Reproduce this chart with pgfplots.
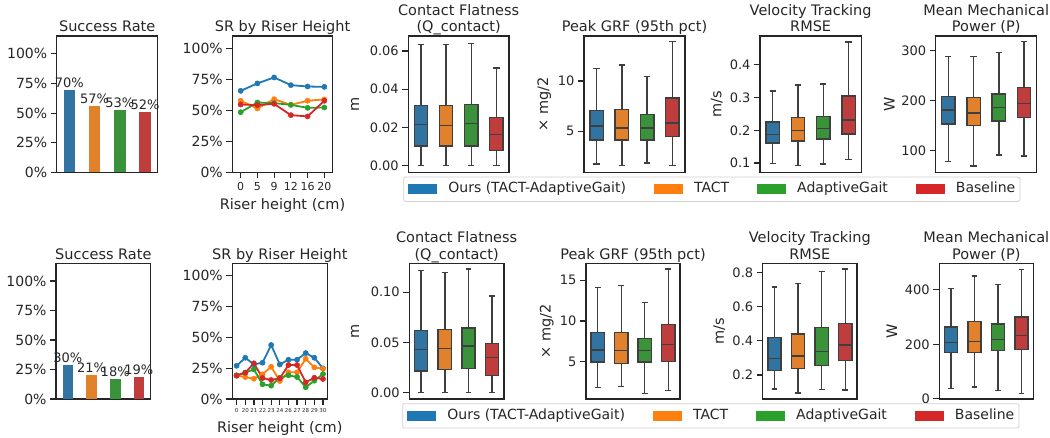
\documentclass[border=0pt]{standalone}
\usepackage{fontspec}
\setmainfont{DejaVu Sans}
\usepackage{pgfplots}
\pgfplotsset{compat=1.18}
\usepgfplotslibrary{statistics}
\definecolor{cb}{HTML}{3274A1}
\definecolor{co}{HTML}{E1812C}
\definecolor{cg}{HTML}{3A923A}
\definecolor{cr}{HTML}{C03D3E}
\definecolor{tb}{HTML}{1F77B4}
\definecolor{to}{HTML}{FF7F0E}
\definecolor{tg}{HTML}{2CA02C}
\definecolor{tr}{HTML}{D62728}
\definecolor{axc}{HTML}{262626}
\definecolor{txt}{HTML}{262626}
\definecolor{bxe}{HTML}{3F3F3F}
\definecolor{legbd}{HTML}{D0D0D0}
\newcommand\tks{\fontsize{13}{15.6}\selectfont}
\newcommand\tkp{\fontsize{14}{16}\selectfont}
\newcommand\ttl{\fontsize{14.5}{16.5}\selectfont}
\newcommand\bls{\fontsize{13}{15}\selectfont}
\newcommand\lgs{\fontsize{14}{16}\selectfont}
\newcommand\rxs{\fontsize{11}{13}\selectfont}
\newcommand\rxb{\fontsize{5.5}{6.6}\selectfont}
\pgfplotsset{
  base/.style={scale only axis, anchor=south west, scaled y ticks=false, scaled x ticks=false,
    axis line style={draw=axc, line width=1.25pt},
    tick style={draw=axc, line width=1.25pt},
    major tick length=6pt, tick align=outside, tick pos=left,
    yticklabel style={font=\tks, text=txt},
    xticklabel style={font=\tks, text=txt},
    title style={font=\ttl, text=txt, align=center, anchor=south, inner sep=0pt, at={(axis description cs:0.5,1)}, yshift=-7pt},
    ylabel style={font=\ttl, text=txt, anchor=center},
    xlabel style={font=\ttl, text=txt, anchor=center, at={(axis description cs:0.5,0)}},
  },
  top/.style={height=136.5pt},
  bot/.style={height=135.8pt},
  sr/.style={base, ymin=0, ymax=1.15, xmin=-0.5, xmax=3.5, xtick=\empty,
    ytick={0,0.25,0.5,0.75,1}, yticklabels={0\%,25\%,50\%,75\%,100\%},
    yticklabel style={font=\tkp},
    title={\strut Success Rate},
    nodes near coords, point meta=explicit symbolic,
    nodes near coords style={font=\bls, text=txt, anchor=south, inner sep=2pt}},
  riser/.style={base, ymin=0, ymax=1.1,
    ytick={0,0.25,0.5,0.75,1}, yticklabels={0\%,25\%,50\%,75\%,100\%},
    yticklabel style={font=\tkp},
    title={\strut SR by Riser Height}, xlabel={Riser height (cm)}},
  bp/.style={base, xmin=-0.5, xmax=3.5, xtick=\empty,
    boxplot/draw direction=y, boxplot/box extend=0.53, boxplot/whisker extend=0.25,
    boxplot/every median/.style={draw=bxe, line width=1.4pt}},
  ln/.style={#1, line width=1.8pt, mark=*, mark size=2.6pt, mark options={solid, line width=0.5pt, fill=#1, draw=#1}},
  lgax/.style={hide axis, scale only axis, anchor=south west, width=10pt, height=10pt,
    xmin=0, xmax=1, ymin=0, ymax=1, legend columns=4,
    legend style={at={(axis description cs:0,0)}, anchor=north west, draw=legbd, line width=0.8pt,
      rounded corners=2pt, fill=white, font=\lgs, text=txt, inner xsep=4.7pt, inner ysep=5.6pt,
      nodes={inner sep=0pt, text height=10.2pt, text depth=3pt},
      /tikz/every odd column/.append style={column sep=0pt},
      /tikz/every even column/.append style={column sep=0pt}}},
}
\newcommand\lgimg[1]{\addlegendimage{legend image code/.code={\path[draw=none,fill=none] (0pt,-5pt) rectangle (40pt,5pt); \fill[#1, draw=none, sharp corners] (0pt,-5pt) rectangle (29pt,5pt);}}}
\newcommand\gap{\hspace{28pt}\null}
\newcommand\bx[7]{\addplot[boxplot prepared={draw position=#1, lower whisker=#3, lower quartile=#4, median=#5, upper quartile=#6, upper whisker=#7}, fill=#2, draw=bxe, line width=1.4pt] coordinates {};}
\begin{document}
\begin{tikzpicture}
\useasboundingbox (0,0) rectangle (1050pt,438pt);
% ================= TOP ROW =================
\begin{axis}[sr, top, at={(56.7pt,265.5pt)}, width=101pt]
\addplot[ybar, bar width=0.46, bar shift=0pt, fill=cb, draw=none] coordinates {(0,0.697) [70\%]};
\addplot[ybar, bar width=0.46, bar shift=0pt, fill=co, draw=none] coordinates {(1,0.558) [57\%]};
\addplot[ybar, bar width=0.46, bar shift=0pt, fill=cg, draw=none] coordinates {(2,0.524) [53\%]};
\addplot[ybar, bar width=0.46, bar shift=0pt, fill=cr, draw=none] coordinates {(3,0.513) [52\%]};
\end{axis}

\begin{axis}[riser, top, at={(232.3pt,265.5pt)}, width=100.4pt, xmin=-0.5, xmax=5.5,
  xtick={0,1,2,3,4,5}, xticklabels={0,5,9,12,16,20}, xticklabel style={font=\rxs},
  xlabel style={yshift=-33.5pt}]
\addplot[ln=tb] coordinates {(0,0.658) (1,0.718) (2,0.766) (3,0.704) (4,0.693) (5,0.690)};
\addplot[ln=to] coordinates {(0,0.578) (1,0.516) (2,0.591) (3,0.545) (4,0.578) (5,0.589)};
\addplot[ln=tg] coordinates {(0,0.486) (1,0.564) (2,0.559) (3,0.545) (4,0.521) (5,0.524)};
\addplot[ln=tr] coordinates {(0,0.548) (1,0.543) (2,0.553) (3,0.462) (4,0.452) (5,0.578)};
\end{axis}

\begin{axis}[bp, top, at={(408.3pt,265.5pt)}, width=100.7pt, ymin=-0.0036, ymax=0.0679,
  ytick={0,0.02,0.04,0.06}, yticklabels={0.00,0.02,0.04,0.06},
  title={Contact Flatness\\\strut(Q\_contact)}, ylabel={m},
  ylabel style={at={(axis description cs:-0.529,0.5)}}]
\bx{0}{cb}{0}{0.0102}{0.0214}{0.0314}{0.0633}
\bx{1}{co}{0}{0.0103}{0.0210}{0.0314}{0.0633}
\bx{2}{cg}{0}{0.0103}{0.0222}{0.0320}{0.0640}
\bx{3}{cr}{0}{0.0078}{0.0162}{0.0253}{0.0512}
\end{axis}

\begin{axis}[bp, top, at={(584pt,265.5pt)}, width=101pt, ymin=0.887, ymax=14.47,
  ytick={5,10}, yticklabels={5,10},
  title={\strut Peak GRF (95th pct)}, ylabel={× mg/2},
  ylabel style={at={(axis description cs:-0.393,0.5)}}]
\bx{0}{cb}{1.72}{4.14}{5.50}{7.05}{11.22}
\bx{1}{co}{1.56}{4.14}{5.33}{7.15}{11.59}
\bx{2}{cg}{1.85}{4.11}{5.33}{6.66}{10.46}
\bx{3}{cr}{1.59}{4.47}{5.83}{8.31}{13.90}
\end{axis}

\begin{axis}[bp, top, at={(760pt,265.5pt)}, width=101.3pt, ymin=0.0713, ymax=0.488,
  ytick={0.1,0.2,0.3,0.4}, yticklabels={0.1,0.2,0.3,0.4},
  title={Velocity Tracking\\\strut RMSE}, ylabel={m/s},
  ylabel style={at={(axis description cs:-0.427,0.5)}}]
\bx{0}{cb}{0.098}{0.161}{0.188}{0.225}{0.320}
\bx{1}{co}{0.092}{0.168}{0.200}{0.239}{0.338}
\bx{2}{cg}{0.097}{0.173}{0.205}{0.242}{0.342}
\bx{3}{cr}{0.111}{0.189}{0.232}{0.305}{0.470}
\end{axis}

\begin{axis}[bp, top, at={(935.7pt,265.5pt)}, width=101pt, ymin=56.2, ymax=328.5,
  ytick={100,200,300}, yticklabels={100,200,300},
  title={Mean Mechanical\\\strut Power (P)}, ylabel={W},
  ylabel style={at={(axis description cs:-0.459,0.5)}}]
\bx{0}{cb}{78.0}{153.2}{181.0}{207.6}{287.4}
\bx{1}{co}{69.4}{149.8}{175.0}{205.6}{288.0}
\bx{2}{cg}{91.4}{159.1}{186.4}{213.0}{295.3}
\bx{3}{cr}{89.4}{165.8}{194.4}{225.6}{317.3}
\end{axis}

\begin{axis}[lgax, at={(403.3pt,261.3pt)}]
\lgimg{tb}\addlegendentry{Ours (TACT-AdaptiveGait)\gap}
\lgimg{to}\addlegendentry{TACT\gap}
\lgimg{tg}\addlegendentry{AdaptiveGait\gap}
\lgimg{tr}\addlegendentry{Baseline}
\end{axis}

% ================= BOTTOM ROW =================
\begin{axis}[sr, bot, at={(56pt,39pt)}, width=94.7pt]
\addplot[ybar, bar width=0.45, bar shift=0pt, fill=cb, draw=none] coordinates {(0,0.291) [30\%]};
\addplot[ybar, bar width=0.45, bar shift=0pt, fill=co, draw=none] coordinates {(1,0.203) [21\%]};
\addplot[ybar, bar width=0.45, bar shift=0pt, fill=cg, draw=none] coordinates {(2,0.169) [18\%]};
\addplot[ybar, bar width=0.45, bar shift=0pt, fill=cr, draw=none] coordinates {(3,0.186) [19\%]};
\end{axis}

\begin{axis}[riser, bot, at={(232.3pt,39pt)}, width=95pt, xmin=-0.5, xmax=10.5,
  xtick={0,1,2,3,4,5,6,7,8,9,10}, xticklabels={0,20,21,22,23,24,26,27,28,29,30},
  xticklabel style={font=\rxb}, xlabel style={yshift=-30pt}]
\addplot[ln=tb] coordinates {(0,0.269) (1,0.334) (2,0.280) (3,0.294) (4,0.437) (5,0.280) (6,0.318) (7,0.318) (8,0.372) (9,0.334) (10,0.248)};
\addplot[ln=to] coordinates {(0,0.189) (1,0.178) (2,0.164) (3,0.200) (4,0.261) (5,0.146) (6,0.216) (7,0.216) (8,0.326) (9,0.256) (10,0.245)};
\addplot[ln=tg] coordinates {(0,0.192) (1,0.213) (2,0.240) (3,0.119) (4,0.108) (5,0.172) (6,0.192) (7,0.178) (8,0.095) (9,0.148) (10,0.202)};
\addplot[ln=tr] coordinates {(0,0.189) (1,0.213) (2,0.289) (3,0.170) (4,0.154) (5,0.167) (6,0.275) (7,0.275) (8,0.135) (9,0.172) (10,0.162)};
\end{axis}

\begin{axis}[bp, bot, at={(409.3pt,39pt)}, width=94.7pt, ymin=-0.0063, ymax=0.1288,
  boxplot/box extend=0.56,
  ytick={0,0.05,0.1}, yticklabels={0.00,0.05,0.10},
  title={Contact Flatness\\\strut(Q\_contact)}, ylabel={m},
  ylabel style={at={(axis description cs:-0.573,0.5)}}]
\bx{0}{cb}{0}{0.0215}{0.0427}{0.0616}{0.1215}
\bx{1}{co}{0}{0.0232}{0.0437}{0.0626}{0.1198}
\bx{2}{cg}{0}{0.0242}{0.0463}{0.0645}{0.1231}
\bx{3}{cr}{0}{0.0172}{0.0348}{0.0490}{0.0960}
\end{axis}

\begin{axis}[bp, bot, at={(586pt,39pt)}, width=94pt, ymin=0.42, ymax=17.1,
  boxplot/box extend=0.56,
  ytick={5,10,15}, yticklabels={5,10,15},
  title={\strut Peak GRF (95th pct)}, ylabel={× mg/2},
  ylabel style={at={(axis description cs:-0.418,0.5)}}]
\bx{0}{cb}{1.84}{4.96}{6.43}{8.61}{14.14}
\bx{1}{co}{1.93}{4.75}{6.39}{8.61}{14.39}
\bx{2}{cg}{1.10}{4.96}{6.35}{7.83}{12.25}
\bx{3}{cr}{1.43}{5.04}{7.13}{9.59}{16.39}
\end{axis}

\begin{axis}[bp, bot, at={(762.7pt,39pt)}, width=94.3pt, ymin=0.0596, ymax=0.854,
  boxplot/box extend=0.56,
  ytick={0.2,0.4,0.6,0.8}, yticklabels={0.2,0.4,0.6,0.8},
  title={Velocity Tracking\\\strut RMSE}, ylabel={m/s},
  ylabel style={at={(axis description cs:-0.460,0.5)}}]
\bx{0}{cb}{0.118}{0.225}{0.295}{0.418}{0.714}
\bx{1}{co}{0.095}{0.239}{0.311}{0.440}{0.734}
\bx{2}{cg}{0.114}{0.256}{0.336}{0.477}{0.806}
\bx{3}{cr}{0.112}{0.284}{0.375}{0.500}{0.821}
\end{axis}

\begin{axis}[bp, bot, at={(939.3pt,39pt)}, width=94pt, ymin=-1, ymax=498,
  boxplot/box extend=0.56,
  ytick={0,200,400}, yticklabels={0,200,400},
  title={Mean Mechanical\\\strut Power (P)}, ylabel={W},
  ylabel style={at={(axis description cs:-0.506,0.5)}}]
\bx{0}{cb}{36.7}{170.0}{206.7}{263.0}{404.9}
\bx{1}{co}{42.8}{168.8}{210.4}{283.8}{451.4}
\bx{2}{cg}{30.6}{176.1}{217.7}{274.0}{420.8}
\bx{3}{cr}{19.6}{181.0}{232.4}{299.7}{475.8}
\end{axis}

\begin{axis}[lgax, at={(402.3pt,34.7pt)}]
\lgimg{tb}\addlegendentry{Ours (TACT-AdaptiveGait)\gap}
\lgimg{to}\addlegendentry{TACT\gap}
\lgimg{tg}\addlegendentry{AdaptiveGait\gap}
\lgimg{tr}\addlegendentry{Baseline}
\end{axis}
\end{tikzpicture}
\end{document}
